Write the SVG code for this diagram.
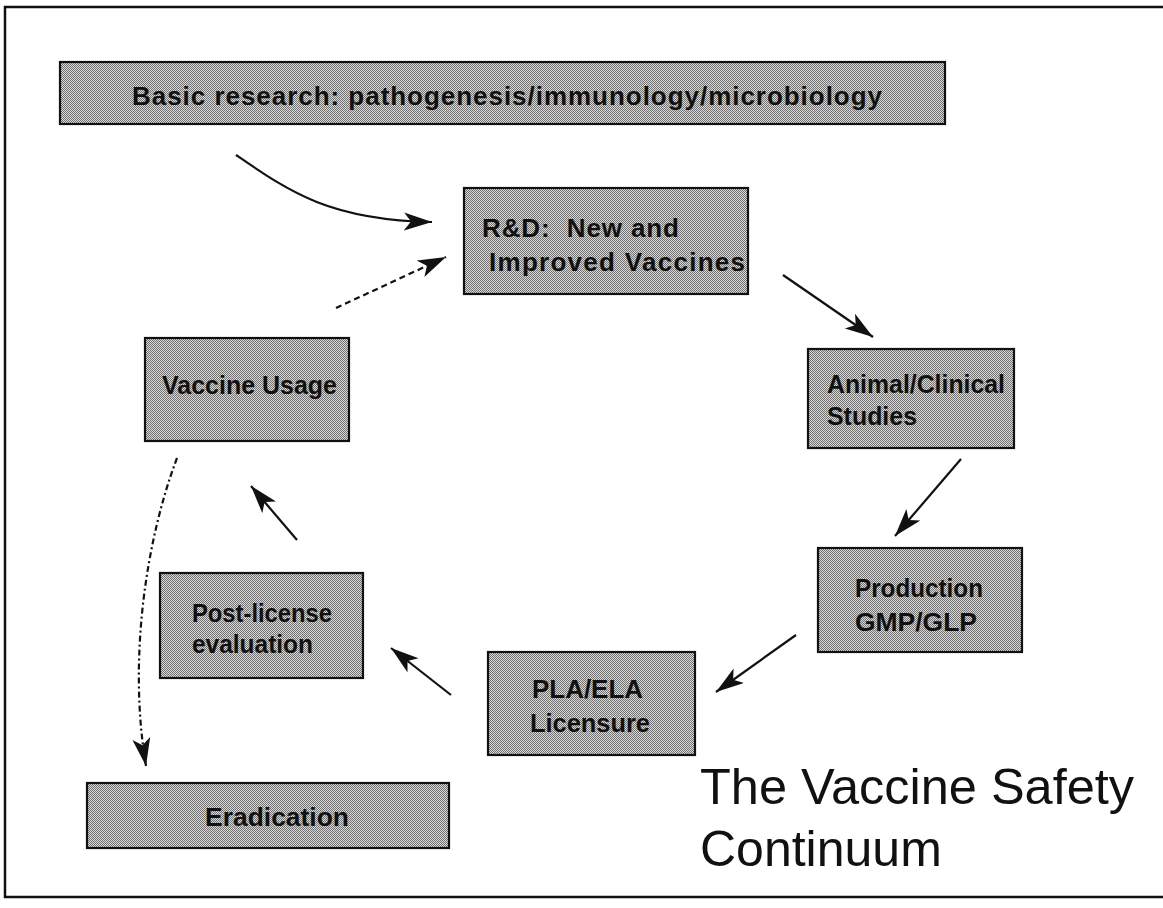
<svg xmlns="http://www.w3.org/2000/svg" width="1163" height="908" viewBox="0 0 1163 908">
<style>
.box{fill:url(#ht);stroke:#111;stroke-width:2.2}
.lbl{font-family:"Liberation Sans",Arial,sans-serif;font-size:26px;font-weight:bold;fill:#111}
.title{font-family:"Liberation Sans",Arial,sans-serif;font-size:50px;fill:#111}
.conn{fill:none;stroke:#111;stroke-width:2.2}
</style>
<defs>
<pattern id="ht" width="2" height="2" patternUnits="userSpaceOnUse">
<rect width="2" height="2" fill="#d8d8d8"/>
<rect width="1" height="1" fill="#727272"/>
<rect x="1" y="1" width="1" height="1" fill="#727272"/>
</pattern>
<marker id="ah" markerWidth="30" markerHeight="20" refX="28" refY="9" orient="auto" markerUnits="userSpaceOnUse">
<path d="M0,0 L28,9 L0,18 L7,9 z" fill="#111"/>
</marker>
</defs>
<path d="M1163,7 H5 V897 H1163" fill="none" stroke="#111" stroke-width="2.5"/>
<g id="connectors">
<path class="conn" d="M236,155 C290,192 330,220 432,222" marker-end="url(#ah)"/>
<path class="conn" d="M336,308 L446,257" stroke-dasharray="6 4" marker-end="url(#ah)"/>
<path class="conn" d="M783,275 L873,337" marker-end="url(#ah)"/>
<path class="conn" d="M961,459 L895,536" marker-end="url(#ah)"/>
<path class="conn" d="M796,635 L716,692" marker-end="url(#ah)"/>
<path class="conn" d="M451,695 L391,648" marker-end="url(#ah)"/>
<path class="conn" d="M297,540 L251,486" marker-end="url(#ah)"/>
<path class="conn" d="M177,458 C146,540 128,660 146,766" stroke-width="1.6" stroke-dasharray="6 3 2 3" marker-end="url(#ah)"/>
</g>
<g id="basic">
<rect class="box" x="60" y="62" width="885" height="62"/>
<text class="lbl" x="132" y="105" textLength="750" lengthAdjust="spacing">Basic research: pathogenesis/immunology/microbiology</text>
</g>
<g id="rd">
<rect class="box" x="464" y="188" width="284" height="106"/>
<text class="lbl" x="482" y="237" textLength="197" lengthAdjust="spacing" xml:space="preserve">R&amp;D:  New and</text>
<text class="lbl" x="489" y="271" textLength="256" lengthAdjust="spacing">Improved Vaccines</text>
</g>
<g id="usage">
<rect class="box" x="145" y="338" width="204" height="103"/>
<text class="lbl" x="162" y="394" textLength="175" lengthAdjust="spacingAndGlyphs">Vaccine Usage</text>
</g>
<g id="animal">
<rect class="box" x="808" y="349" width="206" height="99"/>
<text class="lbl" x="827" y="393" textLength="178" lengthAdjust="spacingAndGlyphs">Animal/Clinical</text>
<text class="lbl" x="827" y="425" textLength="90" lengthAdjust="spacingAndGlyphs">Studies</text>
</g>
<g id="production">
<rect class="box" x="818" y="548" width="204" height="104"/>
<text class="lbl" x="855" y="597" textLength="128" lengthAdjust="spacingAndGlyphs">Production</text>
<text class="lbl" x="855" y="631" textLength="122" lengthAdjust="spacingAndGlyphs">GMP/GLP</text>
</g>
<g id="pla">
<rect class="box" x="488" y="652" width="207" height="103"/>
<text class="lbl" x="532" y="698" textLength="111" lengthAdjust="spacingAndGlyphs">PLA/ELA</text>
<text class="lbl" x="530" y="732" textLength="120" lengthAdjust="spacingAndGlyphs">Licensure</text>
</g>
<g id="postlicense">
<rect class="box" x="160" y="573" width="203" height="105"/>
<text class="lbl" x="192" y="622" textLength="140" lengthAdjust="spacingAndGlyphs">Post-license</text>
<text class="lbl" x="192" y="653" textLength="121" lengthAdjust="spacingAndGlyphs">evaluation</text>
</g>
<g id="eradication">
<rect class="box" x="87" y="783" width="362" height="65"/>
<text class="lbl" x="205" y="826" textLength="144" lengthAdjust="spacingAndGlyphs">Eradication</text>
</g>
<g id="title">
<text class="title" x="700" y="804" textLength="434" lengthAdjust="spacingAndGlyphs">The Vaccine Safety</text>
<text class="title" x="700" y="866">Continuum</text>
</g>
</svg>
